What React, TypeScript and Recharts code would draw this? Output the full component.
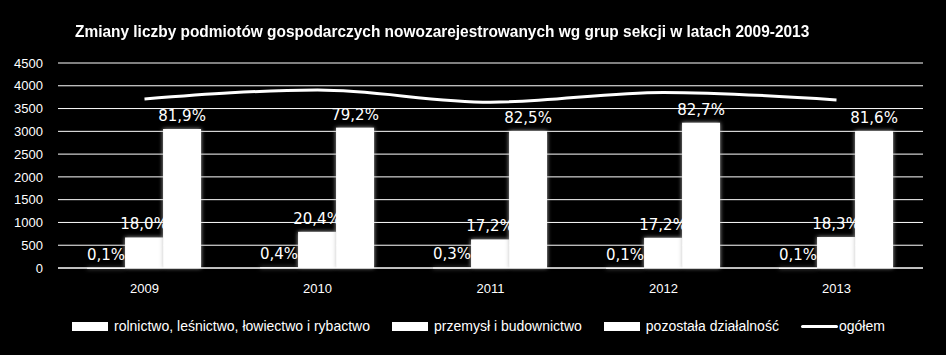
import React from 'react';
import { ComposedChart, Bar, Line, XAxis, YAxis, CartesianGrid, LabelList } from 'recharts';

const years = ['2009', '2010', '2011', '2012', '2013'];
const rolnictwo = [4, 16, 11, 4, 4];
const przemysl = [670, 794, 627, 663, 680];
const pozostala = [3051, 3081, 3007, 3189, 3007];
const ogolem = [3712, 3905, 3640, 3855, 3690];
const pctRolnictwo = ['0,1%', '0,4%', '0,3%', '0,1%', '0,1%'];
const pctPrzemysl = ['18,0%', '20,4%', '17,2%', '17,2%', '18,3%'];
const pctPozostala = ['81,9%', '79,2%', '82,5%', '82,7%', '81,6%'];
const yTicks = [0, 500, 1000, 1500, 2000, 2500, 3000, 3500, 4000, 4500];

const title = 'Zmiany liczby podmiotów gospodarczych nowozarejestrowanych wg grup sekcji w latach 2009-2013';
const legendItems = [
  { name: 'rolnictwo, leśnictwo, łowiectwo i rybactwo', type: 'rect' },
  { name: 'przemysł i budownictwo', type: 'rect' },
  { name: 'pozostała działalność', type: 'rect' },
  { name: 'ogółem', type: 'line' },
];

const data = years.map((y, i) => ({
  year: y,
  rol: rolnictwo[i],
  prz: przemysl[i],
  poz: pozostala[i],
  ogo: ogolem[i],
  pRol: pctRolnictwo[i],
  pPrz: pctPrzemysl[i],
  pPoz: pctPozostala[i],
}));

const narrow = '"Liberation Sans Narrow", "Arial Narrow", "Liberation Sans", Arial, sans-serif';

const GlowBar = (props: any) => {
  const { x, y, width, height } = props;
  if (height == null || width == null) return null;
  return (
    <rect
      x={x}
      y={y}
      width={width}
      height={Math.max(height, 1)}
      fill="#ffffff"
      style={{ filter: 'drop-shadow(0 0 2px rgba(190,190,190,0.9))' }}
    />
  );
};

const labelStyle = { fill: '#ffffff', fontFamily: '"DejaVu Sans", sans-serif', fontSize: 15 };

export default function App() {
  return (
    <div style={{ position: 'absolute', left: 0, top: 0, width: 946, height: 355, background: '#000' }}>
      <div
        style={{
          position: 'absolute',
          left: 75,
          top: 21,
          color: '#fff',
          fontFamily: narrow,
          fontWeight: 'bold',
          fontSize: 17,
          lineHeight: '22px',
          whiteSpace: 'nowrap',
          transform: 'scaleX(0.908)',
          transformOrigin: 'left center',
        }}
      >
        {title}
      </div>
      <ComposedChart
        width={946}
        height={355}
        data={data}
        margin={{ top: 63, right: 23, left: 0, bottom: 57 }}
        barGap={0}
        barCategoryGap="16.8%"
      >
        <CartesianGrid vertical={false} stroke="#ffffff" strokeWidth={1} />
        <XAxis
          dataKey="year"
          axisLine={{ stroke: '#ffffff' }}
          tickLine={false}
          tickSize={0}
          tickMargin={16}
          height={30}
          tick={{ fill: '#ffffff', fontSize: 13, fontFamily: '"Liberation Sans", Arial, sans-serif' }}
        />
        <YAxis
          domain={[0, 4500]}
          ticks={yTicks}
          width={58}
          axisLine={false}
          tickLine={false}
          tickSize={0}
          tickMargin={15}
          interval={0}
          tick={{ fill: '#ffffff', fontSize: 13, fontFamily: '"Liberation Sans", Arial, sans-serif' }}
        />
        <Bar dataKey="rol" isAnimationActive={false} shape={GlowBar} fill="#fff">
          <LabelList dataKey="pRol" position="top" offset={8} style={labelStyle} />
        </Bar>
        <Bar dataKey="prz" isAnimationActive={false} shape={GlowBar} fill="#fff">
          <LabelList dataKey="pPrz" position="top" offset={8} style={labelStyle} />
        </Bar>
        <Bar dataKey="poz" isAnimationActive={false} shape={GlowBar} fill="#fff">
          <LabelList dataKey="pPoz" position="top" offset={8} style={labelStyle} />
        </Bar>
        <Line
          dataKey="ogo"
          type="monotone"
          stroke="#ffffff"
          strokeWidth={3}
          dot={false}
          activeDot={false}
          isAnimationActive={false}
        />
      </ComposedChart>
      <div
        style={{
          position: 'absolute',
          left: 72,
          top: 318,
          display: 'flex',
          alignItems: 'center',
          color: '#fff',
          fontFamily: narrow,
          fontSize: 14,
          whiteSpace: 'nowrap',
        }}
      >
        {legendItems.map((it, i) => (
          <div key={i} style={{ display: 'flex', alignItems: 'center', marginRight: i < 3 ? 22 : 0 }}>
            {it.type === 'rect' ? (
              <span style={{ display: 'inline-block', width: 36, height: 9, background: '#fff', marginRight: 6 }} />
            ) : (
              <span style={{ display: 'inline-block', width: 37, height: 3, background: '#fff', marginRight: 1, borderRadius: 2 }} />
            )}
            <span>{it.name}</span>
          </div>
        ))}
      </div>
    </div>
  );
}
